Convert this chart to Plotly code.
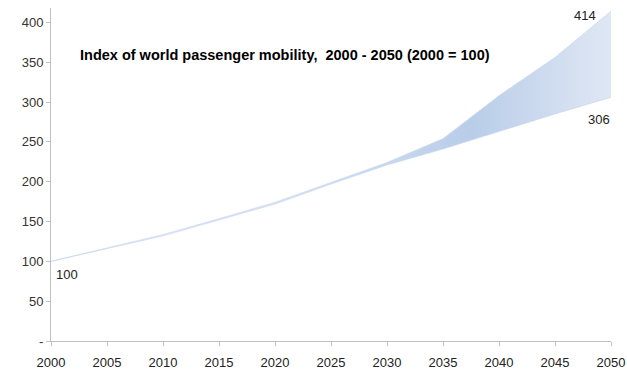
import plotly.graph_objects as go

years = [2000, 2005, 2010, 2015, 2020, 2025, 2030, 2035, 2040, 2045, 2050]
low = [100, 116, 132, 152, 172, 197, 221, 241, 263, 285, 306]
high = [100, 117, 133.5, 153.5, 174, 199, 224, 254, 308, 356, 414]
y_ticks = [0, 50, 100, 150, 200, 250, 300, 350, 400]
y_tick_text = ["-", "50", "100", "150", "200", "250", "300", "350", "400"]
x_ticks = list(range(2000, 2051, 5))

fig = go.Figure()
fig.add_trace(go.Scatter(x=years, y=low, mode="lines",
                         line=dict(width=0.8, color="rgba(200,215,238,0.9)"),
                         showlegend=False, hoverinfo="skip"))
fig.add_trace(go.Scatter(x=years, y=high, mode="lines", fill="tonexty",
                         line=dict(width=0.8, color="rgba(200,215,238,0.9)"),
                         fillgradient=dict(type="horizontal",
                                           colorscale=[[0, "#f4f7fc"], [0.45, "#d5e1f2"],
                                                       [0.75, "#b9cde9"], [1, "#dfe7f4"]]),
                         showlegend=False, hoverinfo="skip"))

ann_font = dict(family="Liberation Sans", size=13, color="#222")
fig.add_annotation(x=2000, y=low[0], text=str(low[0]), showarrow=False,
                   xanchor="left", yanchor="top", xshift=3, yshift=-4, font=ann_font)
fig.add_annotation(x=2050, y=high[-1], text=str(round(high[-1])), showarrow=False,
                   xanchor="right", yanchor="bottom", xshift=-13, yshift=-14, font=ann_font)
fig.add_annotation(x=2050, y=low[-1], text=str(low[-1]), showarrow=False,
                   xanchor="right", yanchor="top", xshift=1, yshift=-13, font=ann_font)
fig.add_annotation(xref="paper", yref="paper", x=0.418, y=0.89,
                   text="<b>Index of world passenger mobility,  2000 - 2050 (2000 = 100)</b>",
                   showarrow=False, font=dict(family="Liberation Sans", size=14.5, color="#000"))

fig.update_layout(
    width=627, height=371,
    margin=dict(l=51, r=16, t=8, b=30),
    plot_bgcolor="white", paper_bgcolor="white",
    font=dict(family="Liberation Sans", size=13, color="#333"),
    xaxis=dict(range=[2000, 2050], tickvals=x_ticks, showgrid=False, zeroline=False,
               automargin=False,
               showline=True, linecolor="#c0c0c0", linewidth=1,
               ticks="outside", ticklen=4, tickcolor="#c0c0c0", ticklabelstandoff=5,
               tickfont=dict(size=13, color="#222")),
    yaxis=dict(range=[0, 418], tickvals=y_ticks, ticktext=y_tick_text, showgrid=False,
               automargin=False,
               zeroline=False, showline=True, linecolor="#c0c0c0", linewidth=1,
               ticks="outside", ticklen=4, tickcolor="#c0c0c0",
               tickfont=dict(size=13, color="#333")),
)
fig.write_html("out.html")
